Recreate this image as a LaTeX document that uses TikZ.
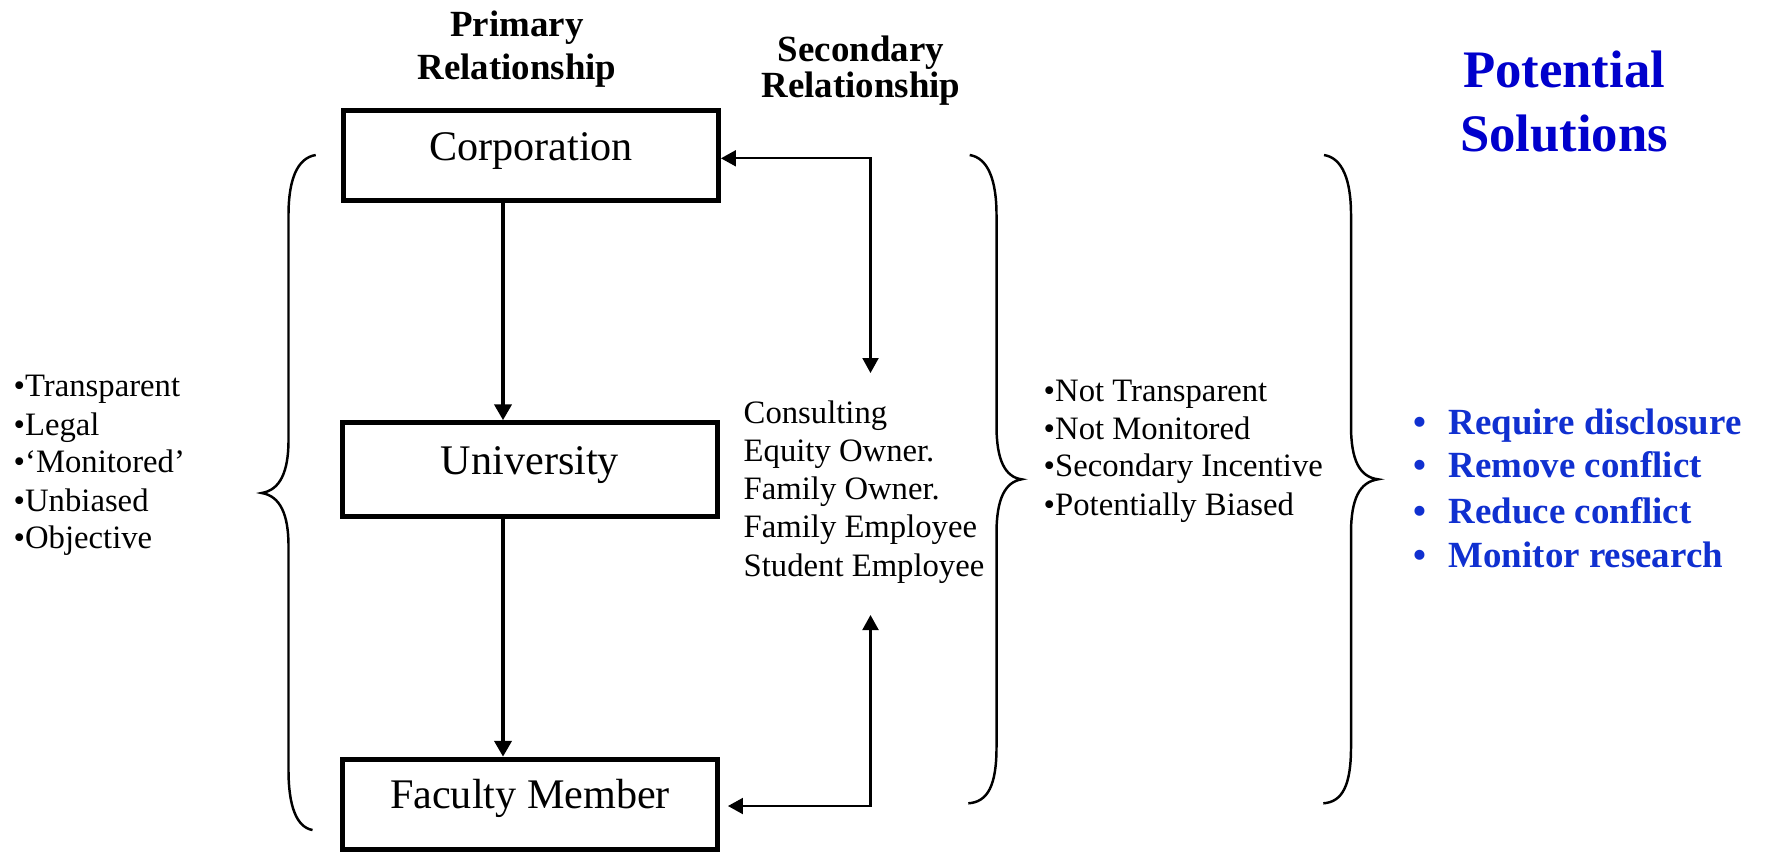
\documentclass[tikz,border=0pt]{standalone}
\usepackage{fontspec}
\setmainfont{Liberation Serif}
\usetikzlibrary{arrows.meta}

\definecolor{solblue}{RGB}{0,0,204}
\definecolor{itemblue}{RGB}{16,48,208}

\begin{document}
\begin{tikzpicture}[
    relbox/.style={draw, line width=1.4pt, minimum width=3.75cm, minimum height=0.90cm,
      text height=0.29cm, text depth=0.2cm, font=\fontsize{12}{14}\selectfont},
    mainarrow/.style={line width=1.3pt, -{Triangle[length=0.16cm,width=0.17cm]}},
    secarrow/.style={line width=0.6pt, {Triangle[length=0.15cm,width=0.16cm]}-{Triangle[length=0.15cm,width=0.16cm]}},
    curly/.style={line width=0.7pt},
    head/.style={anchor=base, inner sep=0pt, font=\fontsize{10.5}{12}\selectfont\bfseries},
    item/.style={anchor=base west, inner sep=0pt, font=\fontsize{9.3}{11}\selectfont},
    sol/.style={anchor=base west, inner sep=0pt, text=itemblue, font=\fontsize{10.5}{12}\selectfont\bfseries}
  ]
  \useasboundingbox (0,0) rectangle (17.68,-8.54);
  % titles
  \node[head] (prim1) at (5.17,-0.36) {Primary};
  \node[head] (prim2) at (5.17,-0.793) {Relationship};
  \node[head] (sec1) at (8.61,-0.617) {Secondary};
  \node[head] (sec2) at (8.61,-0.973) {Relationship};
  \node[head, text=solblue, font=\fontsize{15}{18}\selectfont\bfseries] (pot1) at (15.64,-0.874) {Potential};
  \node[head, text=solblue, font=\fontsize{15}{18}\selectfont\bfseries] (pot2) at (15.64,-1.513) {Solutions};
  % primary chain
  \node[relbox, minimum height=0.90cm] (corp) at (5.31,-1.555) {Corporation};
  \node[relbox, minimum height=0.94cm] (univ) at (5.30,-4.697) {University};
  \node[relbox, minimum height=0.90cm] (fac) at (5.30,-8.042) {Faculty Member};
  \coordinate (axis) at (5.03,0);
  \draw[mainarrow] (corp.south -| axis) -- (univ.north -| axis);
  \draw[mainarrow] (univ.south -| axis) -- (fac.north -| axis);
  % secondary links
  \coordinate (topcorner) at (8.705,-1.583);
  \coordinate (topend) at (8.705,-3.73);
  \coordinate (lowend) at (8.705,-6.15);
  \coordinate (lowcorner) at (8.705,-8.06);
  \draw[secarrow] (corp.east |- topcorner) -- (topcorner) -- (topend);
  \draw[secarrow, shorten >=0.08cm] (lowend) -- (lowcorner) -- (fac.east |- lowcorner);
  \node[item] (c1) at (7.43,-4.23) {Consulting};
  \node[item] (c2) at (7.43,-4.613) {Equity Owner.};
  \node[item] (c3) at (7.43,-4.996) {Family Owner.};
  \node[item] (c4) at (7.43,-5.379) {Family Employee};
  \node[item] (c5) at (7.43,-5.762) {Student Employee};
  % left list
  \node[item] (t1) at (0.13,-3.967) {•Transparent};
  \node[item] (t2) at (0.13,-4.35) {•Legal};
  \node[item] (t3) at (0.13,-4.72) {•‘Monitored’};
  \node[item] (t4) at (0.13,-5.11) {•Unbiased};
  \node[item] (t5) at (0.13,-5.483) {•Objective};
  % middle list
  \node[item] (n1) at (10.43,-4.017) {•Not Transparent};
  \node[item] (n2) at (10.43,-4.393) {•Not Monitored};
  \node[item] (n3) at (10.43,-4.767) {•Secondary Incentive};
  \node[item] (n4) at (10.43,-5.15) {•Potentially Biased};
  % solutions
  \node[sol] (s1) at (14.13,-4.349) {•\hspace{0.22cm}Require disclosure};
  \node[sol] (s2) at (14.13,-4.77) {•\hspace{0.22cm}Remove conflict};
  \node[sol] (s3) at (14.13,-5.23) {•\hspace{0.22cm}Reduce conflict};
  \node[sol] (s4) at (14.13,-5.67) {•\hspace{0.22cm}Monitor research};
  % braces
  \draw[curly] (3.157,-1.55) .. controls (2.97,-1.58) and (2.885,-1.80) .. (2.885,-2.15)
    -- (2.885,-4.40) .. controls (2.885,-4.72) and (2.80,-4.90) .. (2.617,-4.93)
    .. controls (2.80,-4.96) and (2.885,-5.14) .. (2.885,-5.46)
    -- (2.885,-7.70) .. controls (2.885,-8.05) and (2.96,-8.27) .. (3.125,-8.30);
  \draw[curly] (9.697,-1.55) .. controls (9.88,-1.58) and (9.965,-1.80) .. (9.965,-2.15)
    -- (9.965,-4.26) .. controls (9.965,-4.60) and (10.05,-4.77) .. (10.216,-4.793)
    .. controls (10.05,-4.82) and (9.965,-4.99) .. (9.965,-5.33)
    -- (9.965,-7.47) .. controls (9.965,-7.85) and (9.88,-8.02) .. (9.683,-8.033);
  \draw[curly] (13.24,-1.55) .. controls (13.425,-1.58) and (13.51,-1.80) .. (13.51,-2.15)
    -- (13.51,-4.26) .. controls (13.51,-4.60) and (13.595,-4.77) .. (13.78,-4.793)
    .. controls (13.595,-4.82) and (13.51,-4.99) .. (13.51,-5.33)
    -- (13.51,-7.47) .. controls (13.51,-7.85) and (13.425,-8.02) .. (13.233,-8.033);
\end{tikzpicture}
\end{document}
